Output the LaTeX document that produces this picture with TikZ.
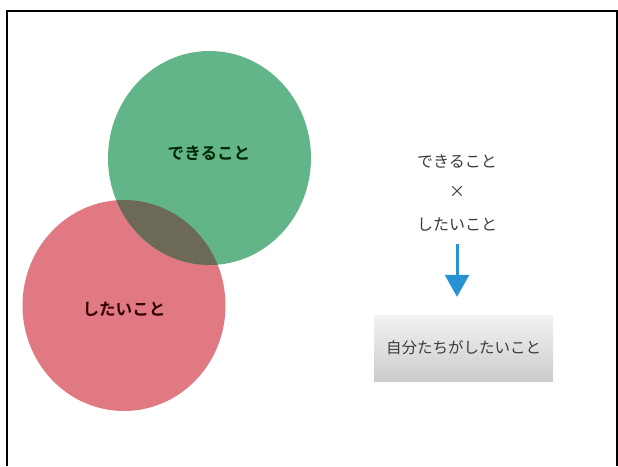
\documentclass[tikz,border=0pt]{standalone}
\usepackage{fontspec}
\newfontfamily\jp{Noto Sans CJK JP}
\newfontfamily\jpb{Noto Sans CJK JP Bold}
\usetikzlibrary{arrows.meta}
\definecolor{vgreen}{RGB}{98,181,136}
\definecolor{vred}{RGB}{225,121,130}
\definecolor{vmix}{RGB}{108,106,86}
\definecolor{arrowblue}{RGB}{40,146,212}
\definecolor{txtgray}{RGB}{60,60,60}
\tikzset{
  circlabel/.style={font=\jpb\fontsize{16.6}{20}\selectfont, inner sep=0pt},
  sidelabel/.style={font=\jp\fontsize{16}{20}\selectfont, text=txtgray, inner sep=0pt},
  resultbox/.style={minimum width=179pt, minimum height=66pt, inner sep=0pt,
    top color=black!5, bottom color=black!20, draw=none,
    font=\jp\fontsize{15.5}{18}\selectfont, text=txtgray},
  flowarrow/.style={draw=arrowblue, line width=3pt, -{Triangle[width=24pt,length=22pt]}},
}
\begin{document}
\begin{tikzpicture}[x=1pt,y=-1pt]
\useasboundingbox (0,0) rectangle (618,466);
\fill[white] (0,0) rectangle (618,466);
\draw[line width=2pt] (7,466) -- (7,10.5) -- (616.5,10.5) -- (616.5,466);
% Venn ellipses
\fill[vred] (124,305.5) ellipse [x radius=101.5, y radius=105.5];
\fill[vgreen] (209.5,158) ellipse [x radius=101.5, y radius=107];
\begin{scope}
  \clip (209.5,158) ellipse [x radius=101.5, y radius=107];
  \fill[vmix] (124,305.5) ellipse [x radius=101.5, y radius=105.5];
\end{scope}
\node[circlabel, text=black!85!green] (can) at (209,153) {できること};
\node[circlabel, text=black!80!red] (want) at (124,309) {したいこと};
% right side
\node[sidelabel] (can2) at (457,161) {できること};
\node[sidelabel] (times) at (457,192) {×};
\node[sidelabel] (want2) at (457,225) {したいこと};
\node[resultbox] (res) at (463.5,348) {自分たちがしたいこと};
\draw[flowarrow] ([yshift=-12pt]want2.south) -- ([yshift=18pt]want2.south |- res.north);
\end{tikzpicture}
\end{document}
